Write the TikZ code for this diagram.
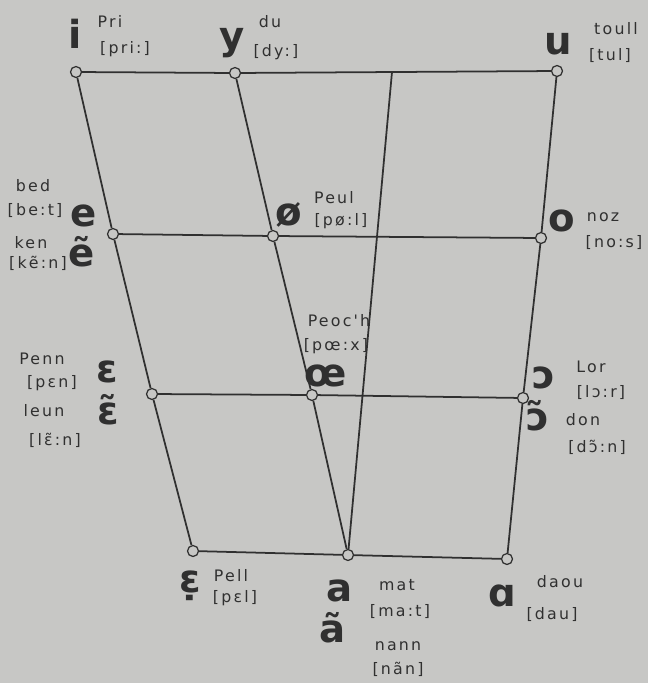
\documentclass[tikz,border=0pt]{standalone}
\usepackage{fontspec}
\newfontfamily\ipafont{DejaVu Sans}
\newfontfamily\handfont[LetterSpace=14]{DejaVu Sans}
\usetikzlibrary{positioning}
\definecolor{paper}{RGB}{199,199,197}
\definecolor{ink}{RGB}{48,48,48}

\begin{document}
\begin{tikzpicture}[x=0.02cm, y=-0.02cm,
  knot/.style={draw=ink, fill=paper, circle, inner sep=0pt,
    minimum size=0.22cm, line width=0.7pt},
  chart/.style={draw=ink, line width=1pt},
  vowel/.style={text=ink, inner sep=0pt,
    font=\ipafont\bfseries\fontsize{22}{22}\selectfont},
  word/.style={text=ink, inner sep=0pt,
    font=\handfont\fontsize{9}{9}\selectfont}
]
  \fill[paper] (0,0) rectangle (648,683);

  % points of the chart
  \node[knot] (pi) at (76,72) {};
  \node[knot] (py) at (235,73) {};
  \node[knot] (pu) at (557,71) {};
  \coordinate (ptop) at (392,72);
  \node[knot] (pe) at (113,234) {};
  \node[knot] (poslash) at (273,236) {};
  \node[knot] (po) at (541,238) {};
  \node[knot] (peps) at (152,394) {};
  \node[knot] (poe) at (312,395) {};
  \node[knot] (popen) at (523,398) {};
  \node[knot] (pepsdot) at (193,551) {};
  \node[knot] (pa) at (348,555) {};
  \node[knot] (palpha) at (507,559) {};

  % lines
  \draw[chart] (pi) -- (py);
  \draw[chart] (py) -- (pu);
  \draw[chart] (pi) -- (pe) -- (peps) -- (pepsdot);
  \draw[chart] (py) -- (poslash) -- (poe) -- (pa);
  \draw[chart] (ptop) -- (pa);
  \draw[chart] (pu) -- (po) -- (popen) -- (palpha);
  \draw[chart] (pe) -- (poslash) -- (po);
  \draw[chart] (peps) -- (poe) -- (popen);
  \draw[chart] (pepsdot) -- (pa) -- (palpha);

  % top row
  \node[vowel] (vi) at (75,34) {i};
  \node[word] (wpri) at (110,21) {Pri};
  \node[word] (tpri) at (125,49) {[pri:]};
  \node[vowel] (vy) at (232,43) {y};
  \node[word] (wdu) at (270,22) {du};
  \node[word] (tdu) at (276,52) {[dy:]};
  \node[vowel] (vu) at (558,44) {u};
  \node[word] (wtoull) at (616,29) {toull};
  \node[word] (ttoull) at (610,56) {[tul]};

  % second row
  \node[word] (wbed) at (33,186) {bed};
  \node[word] (tbed) at (35,211) {[be:t]};
  \node[vowel] (ve) at (84,216) {e};
  \node[word] (wken) at (31,243) {ken};
  \node[word] (tken) at (38,263) {[kẽ:n]};
  \node[vowel] (venas) at (82,252) {ẽ};
  \node[vowel] (voslash) at (289,215) {ø};
  \node[word] (wpeul) at (334,198) {Peul};
  \node[word] (tpeul) at (341,221) {[pø:l]};
  \node[vowel] (vo) at (562,221) {o};
  \node[word] (wnoz) at (603,217) {noz};
  \node[word] (tnoz) at (614,243) {[no:s]};

  % third row
  \node[word] (wpenn) at (42,359) {Penn};
  \node[word] (tpenn) at (52,383) {[pɛn]};
  \node[vowel] (veps) at (107,372) {ɛ};
  \node[vowel] (vepsnas) at (108,410) {ɛ̃};
  \node[word] (wleun) at (44,411) {leun};
  \node[word] (tleun) at (55,440) {[lɛ̃:n]};
  \node[word] (wpeoch) at (339,321) {Peoc'h};
  \node[word] (tpeoch) at (336,346) {[pœ:x]};
  \node[vowel] (voe) at (326,376) {œ};
  \node[vowel] (vopen) at (544,378) {ɔ};
  \node[word] (wlor) at (591,367) {Lor};
  \node[word] (tlor) at (601,393) {[lɔ:r]};
  \node[vowel] (vopennas) at (538,416) {ɔ̃};
  \node[word] (wdon) at (583,420) {don};
  \node[word] (tdon) at (597,447) {[dɔ̃:n]};

  % bottom row
  \node[vowel] (vepsdot) at (190,586) {ɛ̣};
  \node[word] (wpell) at (231,576) {Pell};
  \node[word] (tpell) at (235,598) {[pɛl]};
  \node[vowel] (va) at (340,591) {a};
  \node[word] (wmat) at (397,585) {mat};
  \node[word] (tmat) at (400,612) {[ma:t]};
  \node[vowel] (vanas) at (333,628) {ã};
  \node[word] (wnann) at (398,646) {nann};
  \node[word] (tnann) at (398,669) {[nãn]};
  \node[vowel] (valpha) at (502,596) {ɑ};
  \node[word] (wdaou) at (560,582) {daou};
  \node[word] (tdaou) at (552,615) {[dau]};
\end{tikzpicture}
\end{document}
